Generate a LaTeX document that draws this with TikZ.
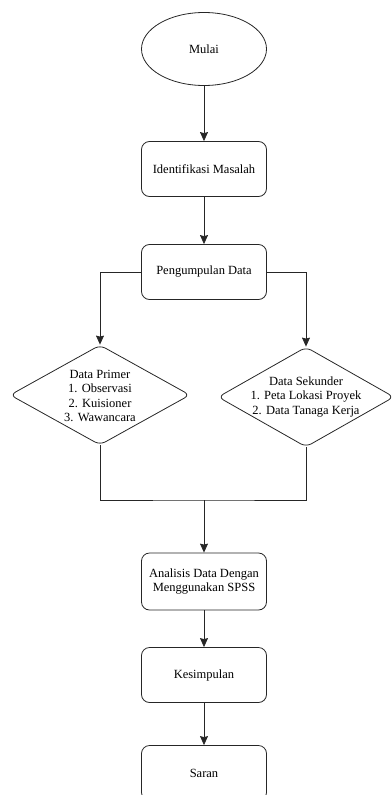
\documentclass[tikz,border=0pt]{standalone}
\usepackage{fontspec}
\setmainfont{Liberation Serif}
\newfontfamily\tnr{Liberation Serif}
\usetikzlibrary{shapes.geometric,arrows.meta}
\begin{document}
\begin{tikzpicture}[x=1pt,y=-1pt,
  every node/.style={font=\tnr\fontsize{12.5}{14.5}\selectfont},
  line/.style={line width=0.8pt, draw=black!85},
  arr/.style={line, -{Stealth[length=9pt,width=8pt,inset=1pt]}},
  procbox/.style={line, rectangle, rounded corners=8pt, minimum width=125pt, minimum height=55pt, inner sep=0pt, align=center},
  decbox/.style={line, diamond, rounded corners=6pt, inner sep=0pt},
  txt/.style={align=center, inner sep=0pt}]
\useasboundingbox (0,0) rectangle (391,795);
\node[line, ellipse, minimum width=125pt, minimum height=73pt, inner sep=0pt] (mulai) at (204,49) {Mulai};
\node[procbox] (ident) at (204,169) {Identifikasi Masalah};
\node[procbox] (kumpul) at (204,272) {Pengumpulan Data};
\node[decbox, minimum width=180pt, minimum height=100pt] (primer) at (100,395) {};
\node[txt] (primert) at (100,396) {Data Primer\\1. Observasi\\2. Kuisioner\\3. Wawancara};
\node[decbox, minimum width=176pt, minimum height=100pt] (sekunder) at (306,397) {};
\node[txt] (sekundert) at (306,397) {Data Sekunder\\1. Peta Lokasi Proyek\\2. Data Tanaga Kerja};
\coordinate (mid) at (204,500);
\node[procbox, minimum height=57pt] (analisis) at (204,581.5) {Analisis Data Dengan\\Menggunakan SPSS};
\node[procbox] (kesimpulan) at (204,675) {Kesimpulan};
\node[procbox] (saran) at (204,773) {Saran};
\draw[arr] (mulai) -- (ident);
\draw[arr] (ident) -- (kumpul);
\draw[arr] (kumpul.west) -| (primer.north);
\draw[arr] (kumpul.east) -| (sekunder.north);
\draw[line] (primer.south) |- (mid) -| (sekunder.south);
\draw[arr] (mid) -- (analisis.north);
\draw[arr] (analisis) -- (kesimpulan);
\draw[arr] (kesimpulan) -- (saran);
\end{tikzpicture}
\end{document}
